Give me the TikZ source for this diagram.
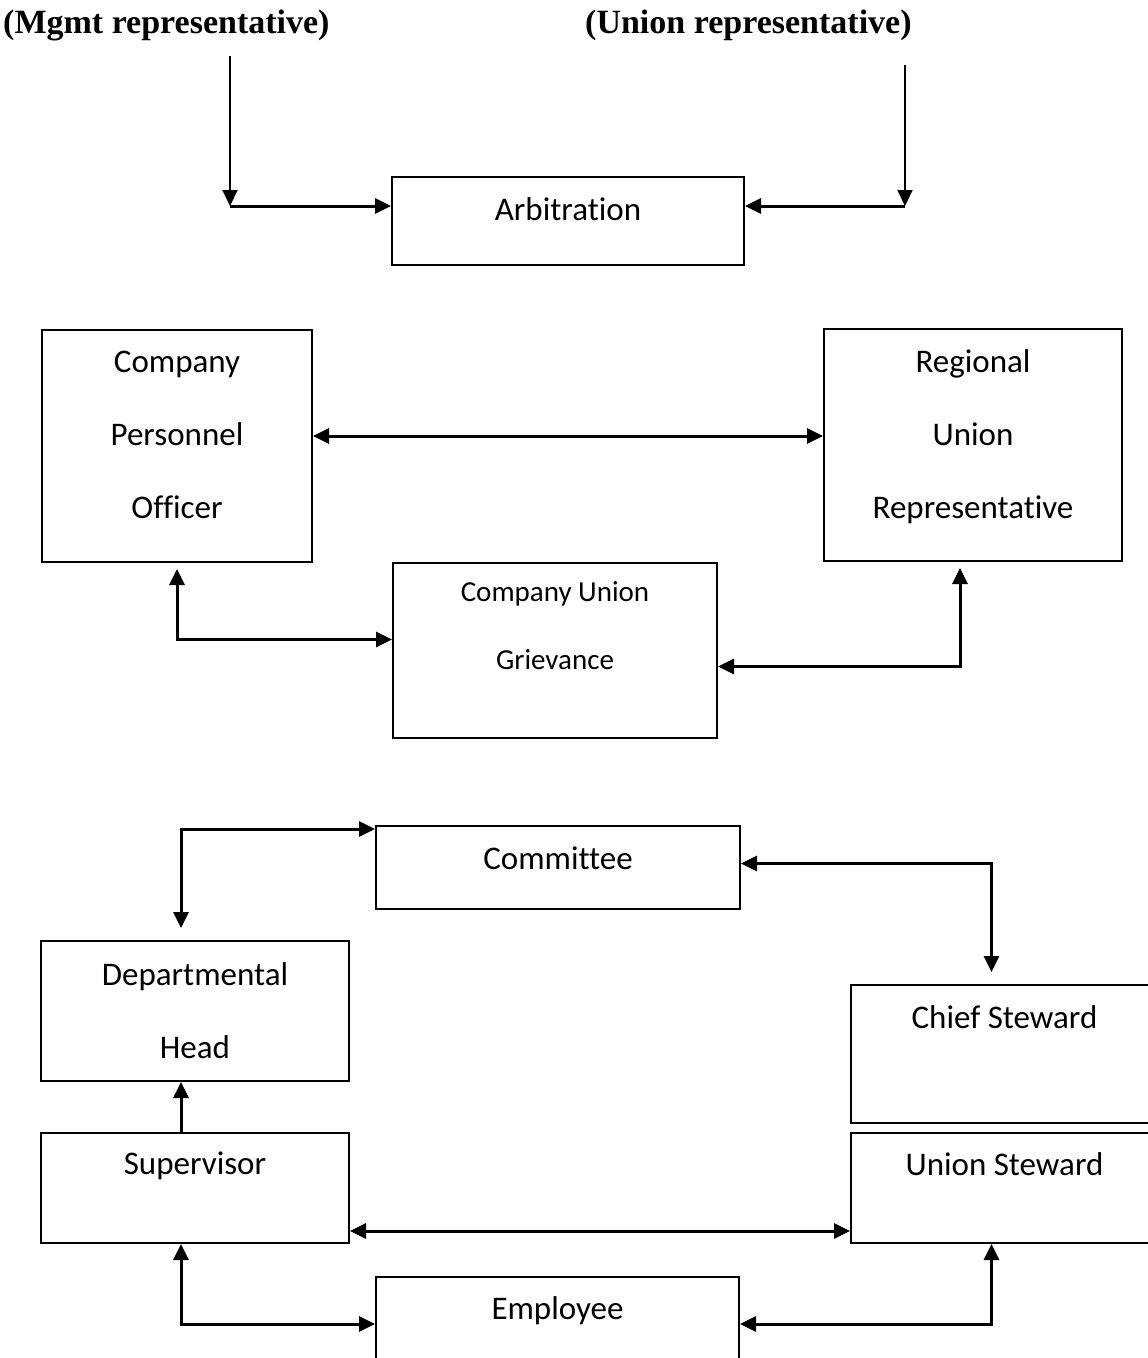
\documentclass[tikz,border=0pt]{standalone}
\usepackage{fontspec}
\setmainfont[Ligatures={NoCommon}]{Carlito}
\newfontfamily\hdrfont{Liberation Serif}
\usetikzlibrary{arrows.meta,positioning}

\begin{document}
\begin{tikzpicture}[x=1pt, y=-1pt,
  box/.style={draw, line width=2pt, inner sep=0pt, anchor=north west, align=center, font=\fontsize{33}{73}\selectfont},
  hdr/.style={inner sep=0pt, anchor=base west, font=\hdrfont\bfseries\fontsize{34}{40}\selectfont},
  arr/.style={-{Triangle[length=16pt, width=15pt]}, line width=3pt},
  dbl/.style={{Triangle[length=16pt, width=15pt]}-{Triangle[length=16pt, width=15pt]}, line width=3pt},
  thinarr/.style={-{Triangle[length=16pt, width=15pt]}, line width=2pt}
]
  \useasboundingbox (0,0) rectangle (1148,1358);
  \clip (0,0) rectangle (1148,1358);

  \node[hdr] (mgmt) at (3,33) {(Mgmt representative)};
  \node[hdr] (union) at (585,33) {(Union representative)};

  \node[box, minimum width=352pt, text height=43pt, text depth=45pt] (arb) at (391,176) {Arbitration};
  \node[box, minimum width=270pt, text height=188pt, text depth=44pt] (pers) at (41,329) {Company\\Personnel\\Officer};
  \node[box, minimum width=298pt, text height=189pt, text depth=43pt] (reg) at (823,328) {Regional\\Union\\Representative};
  \node[box, minimum width=324pt, text height=106pt, text depth=69pt, font=\fontsize{29}{68}\selectfont] (cug) at (392,562) {Company Union\\Grievance};
  \node[box, minimum width=364pt, text height=43pt, text depth=40pt] (comm) at (375,825) {Committee};
  \node[box, minimum width=308pt, text height=117pt, text depth=23pt] (dept) at (40,940) {Departmental\\Head};
  \node[box, minimum width=307pt, text height=43pt, text depth=95pt] (chief) at (850,984) {Chief Steward};
  \node[box, minimum width=307pt, text height=42pt, text depth=68pt] (ustew) at (850,1132) {Union Steward};
  \node[box, minimum width=308pt, text height=41pt, text depth=69pt] (sup) at (40,1132) {Supervisor};
  \node[box, minimum width=363pt, text height=42pt, text depth=41pt] (emp) at (375,1276) {Employee};

  \coordinate (mgtop) at (230,56);
  \coordinate (mgbend) at (230,206);
  \coordinate (untop) at (905,65);
  \coordinate (unbend) at (905,206);

  \draw[thinarr] (mgtop) -- (mgbend);
  \draw[arr] (mgbend) -- (arb.west |- mgbend);
  \draw[thinarr] (untop) -- (unbend);
  \draw[arr] (unbend) -- (arb.east |- unbend);

  \draw[dbl] ([yshift=10pt]pers.east) -- ([yshift=10pt]pers.east -| reg.west);
  \draw[dbl, shorten <=6pt] (pers.south) |- ([yshift=11pt]cug.west);
  \draw[dbl, shorten <=6pt] ([xshift=-13pt]reg.south) |- ([yshift=-16pt]cug.east);

  \draw[dbl, shorten <=12pt] ([xshift=-14pt]dept.north) |- ([yshift=-4pt]comm.north west);
  \draw[dbl, shorten >=12pt] ([yshift=4pt]comm.east) -| ([xshift=-13pt]chief.north);
  \draw[arr] ([xshift=-14pt]sup.north) -- ([xshift=-14pt]dept.south);
  \draw[dbl] ([yshift=-43pt]sup.east) -- ([yshift=-43pt]sup.east -| ustew.west);
  \draw[dbl] ([xshift=-14pt]sup.south) |- ([yshift=-48pt]emp.north west);
  \draw[dbl] ([xshift=-13pt]ustew.south) |- ([yshift=-48pt]emp.north east);
\end{tikzpicture}
\end{document}
